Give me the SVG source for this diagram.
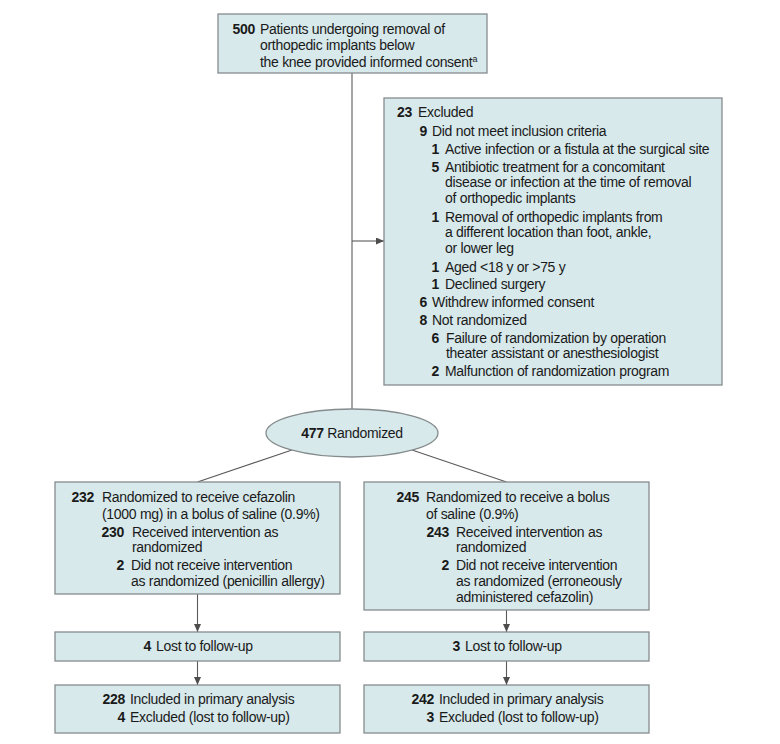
<svg xmlns="http://www.w3.org/2000/svg" width="780" height="744" viewBox="0 0 780 744">
<defs>
<marker id="ah" markerWidth="8" markerHeight="7" refX="8" refY="3.5" orient="auto" markerUnits="userSpaceOnUse">
<path d="M0,0 L8,3.5 L0,7 z" fill="#4d4d4d"/>
</marker>
</defs>
<style>
.box{fill:#d7e9eb;stroke:#868c8e;stroke-width:1.3}
.t{font-family:"Liberation Sans",Arial,sans-serif;font-size:14px;letter-spacing:-0.3px;fill:#1a1a1a}
.n{font-weight:bold;text-anchor:end}
.c{stroke:#5a5a5a;stroke-width:1.1;fill:none}
.a{marker-end:url(#ah)}
.sup{font-size:9px}
</style>
<rect width="780" height="744" fill="#ffffff"/>
<g id="connectors">
<line class="c" x1="352" y1="73" x2="352" y2="409"/>
<line class="c a" x1="352" y1="241" x2="384" y2="241"/>
<line class="c" x1="292" y1="450" x2="197.5" y2="482"/>
<line class="c" x1="412" y1="450" x2="506.5" y2="482"/>
<line class="c a" x1="197.5" y1="594" x2="197.5" y2="632"/>
<line class="c a" x1="506.5" y1="610" x2="506.5" y2="632"/>
<line class="c a" x1="197.5" y1="661" x2="197.5" y2="685"/>
<line class="c a" x1="506.5" y1="661" x2="506.5" y2="685"/>
</g>
<g id="enrolled">
<rect class="box" x="218" y="14" width="269" height="59"/>
<text class="t n" x="255" y="34">500</text>
<text class="t" x="260" y="34">Patients undergoing removal of</text>
<text class="t" x="260" y="50">orthopedic implants below</text>
<text class="t" x="260" y="67">the knee provided informed consent<tspan class="sup" dy="-5">a</tspan></text>
</g>
<g id="excluded">
<rect class="box" x="384" y="98" width="338" height="287"/>
<text class="t n" x="412" y="117">23</text>
<text class="t" x="418" y="117">Excluded</text>
<text class="t n" x="427" y="136">9</text>
<text class="t" x="432" y="136">Did not meet inclusion criteria</text>
<text class="t n" x="439" y="154">1</text>
<text class="t" x="445" y="154">Active infection or a fistula at the surgical site</text>
<text class="t n" x="439" y="172">5</text>
<text class="t" x="445" y="172">Antibiotic treatment for a concomitant</text>
<text class="t" x="445" y="187">disease or infection at the time of removal</text>
<text class="t" x="445" y="203">of orthopedic implants</text>
<text class="t n" x="439" y="222">1</text>
<text class="t" x="445" y="222">Removal of orthopedic implants from</text>
<text class="t" x="445" y="237">a different location than foot, ankle,</text>
<text class="t" x="445" y="253">or lower leg</text>
<text class="t n" x="439" y="272">1</text>
<text class="t" x="445" y="272">Aged &lt;18 y or &gt;75 y</text>
<text class="t n" x="439" y="289">1</text>
<text class="t" x="445" y="289">Declined surgery</text>
<text class="t n" x="427" y="307">6</text>
<text class="t" x="432" y="307">Withdrew informed consent</text>
<text class="t n" x="427" y="325">8</text>
<text class="t" x="432" y="325">Not randomized</text>
<text class="t n" x="439" y="343">6</text>
<text class="t" x="446" y="343">Failure of randomization by operation</text>
<text class="t" x="446" y="358">theater assistant or anesthesiologist</text>
<text class="t n" x="439" y="376">2</text>
<text class="t" x="445" y="376">Malfunction of randomization program</text>
</g>
<g id="randomized">
<ellipse class="box" cx="352" cy="433" rx="86" ry="24"/>
<text class="t" x="352" y="438" text-anchor="middle"><tspan font-weight="bold">477</tspan> Randomized</text>
</g>
<g id="cefazolin">
<rect class="box" x="55" y="482" width="285" height="112"/>
<text class="t n" x="94" y="502">232</text>
<text class="t" x="102" y="502">Randomized to receive cefazolin</text>
<text class="t" x="102" y="519">(1000 mg) in a bolus of saline (0.9%)</text>
<text class="t n" x="124" y="537">230</text>
<text class="t" x="132" y="537">Received intervention as</text>
<text class="t" x="132" y="552">randomized</text>
<text class="t n" x="124" y="570">2</text>
<text class="t" x="131" y="570">Did not receive intervention</text>
<text class="t" x="131" y="586">as randomized (penicillin allergy)</text>
</g>
<g id="saline">
<rect class="box" x="364" y="482" width="285" height="128"/>
<text class="t n" x="419" y="502">245</text>
<text class="t" x="426" y="502">Randomized to receive a bolus</text>
<text class="t" x="426" y="519">of saline (0.9%)</text>
<text class="t n" x="449" y="537">243</text>
<text class="t" x="456" y="537">Received intervention as</text>
<text class="t" x="456" y="552">randomized</text>
<text class="t n" x="449" y="570">2</text>
<text class="t" x="456" y="570">Did not receive intervention</text>
<text class="t" x="456" y="586">as randomized (erroneously</text>
<text class="t" x="456" y="602">administered cefazolin)</text>
</g>
<g id="lost-cefazolin">
<rect class="box" x="55" y="632" width="285" height="29"/>
<text class="t n" x="151" y="651">4</text>
<text class="t" x="156" y="651">Lost to follow-up</text>
</g>
<g id="lost-saline">
<rect class="box" x="364" y="632" width="285" height="29"/>
<text class="t n" x="460" y="651">3</text>
<text class="t" x="465" y="651">Lost to follow-up</text>
</g>
<g id="analysis-cefazolin">
<rect class="box" x="55" y="685" width="285" height="48"/>
<text class="t n" x="125" y="704">228</text>
<text class="t" x="130" y="704">Included in primary analysis</text>
<text class="t n" x="125" y="722">4</text>
<text class="t" x="130" y="722">Excluded (lost to follow-up)</text>
</g>
<g id="analysis-saline">
<rect class="box" x="364" y="685" width="285" height="48"/>
<text class="t n" x="434" y="704">242</text>
<text class="t" x="439" y="704">Included in primary analysis</text>
<text class="t n" x="434" y="722">3</text>
<text class="t" x="439" y="722">Excluded (lost to follow-up)</text>
</g>
</svg>
